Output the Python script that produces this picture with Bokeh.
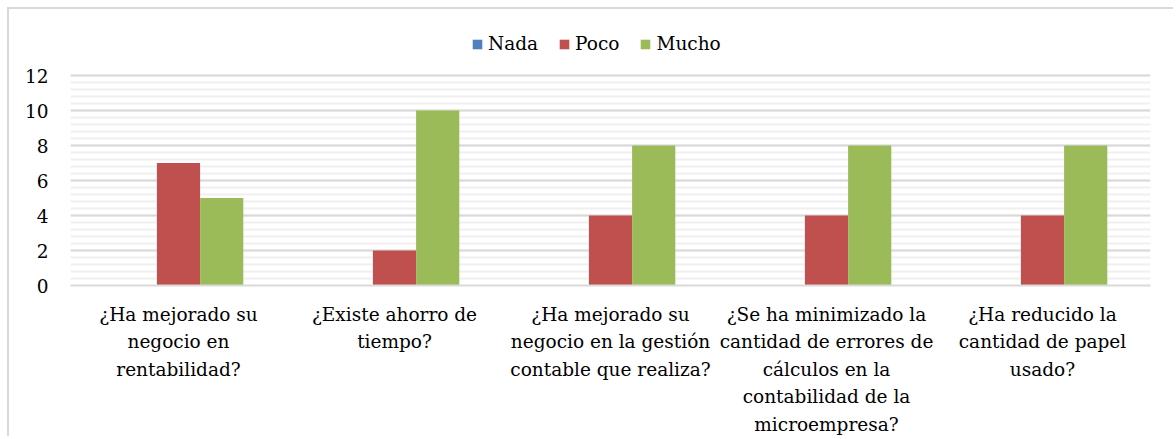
import numpy as np
from bokeh.plotting import figure
from bokeh.models import ColumnDataSource, FactorRange, FixedTicker, Legend, LegendItem
from bokeh.transform import dodge
from bokeh.embed import file_html
from bokeh.resources import INLINE

categories = [
    "¿Ha mejorado su\nnegocio en\nrentabilidad?",
    "¿Existe ahorro de\ntiempo?",
    "¿Ha mejorado su\nnegocio en la gestión\ncontable que realiza?",
    "¿Se ha minimizado la\ncantidad de errores de\ncálculos en la\ncontabilidad de la\nmicroempresa?",
    "¿Ha reducido la\ncantidad de papel\nusado?",
]
nada = [0, 0, 0, 0, 0]
poco = [7, 2, 4, 4, 4]
mucho = [5, 10, 8, 8, 8]
series_names = ["Nada", "Poco", "Mucho"]
colors = ["#4F81BD", "#C0504D", "#9BBB59"]
y_ticks = [0, 2, 4, 6, 8, 10, 12]

FONT = "DejaVu Serif"
FS = "18.5px"

source = ColumnDataSource(data=dict(cat=categories, Nada=nada, Poco=poco, Mucho=mucho))

MBT, MBB = 22, 153
W, H = 1166, 429
frame_h = H - MBT - MBB
px_per_unit = 210 / 12.0
y_end = frame_h / px_per_unit

p = figure(
    x_range=FactorRange(*categories, range_padding=0),
    y_range=(0, y_end),
    width=W, height=H,
    output_backend="svg", toolbar_location=None,
    min_border_left=61, min_border_right=25, min_border_top=MBT, min_border_bottom=MBB,
)
p.styles = {"margin-left": "7px", "margin-top": "7px",
            "border-left": "2px solid #d9d9d9", "border-top": "2px solid #d9d9d9"}
p.outline_line_color = None
p.background_fill_color = "white"
p.border_fill_color = "white"

renderers = []
offsets = [-0.2, 0.0, 0.2]
for name, col, off in zip(series_names, colors, offsets):
    r = p.vbar(x=dodge("cat", off, range=p.x_range), top=name, width=0.2, source=source,
               fill_color=col, line_color=None)
    renderers.append(r)

minor = [round(v, 1) for v in np.arange(0, 12.0001, 0.4)]
p.yaxis.ticker = FixedTicker(ticks=y_ticks, minor_ticks=minor)
p.ygrid.ticker = FixedTicker(ticks=y_ticks, minor_ticks=minor)
p.yaxis.axis_line_color = None
p.yaxis.major_tick_line_color = None
p.yaxis.minor_tick_line_color = None
p.yaxis.major_label_text_font = FONT
p.yaxis.major_label_text_font_size = FS
p.yaxis.major_label_text_color = "#000000"
p.yaxis.major_label_standoff = 16

p.xaxis.axis_line_color = "#d9d9d9"
p.xaxis.axis_line_width = 2
p.xaxis.major_tick_line_color = None
p.xaxis.minor_tick_line_color = None
p.xaxis.major_label_text_font = FONT
p.xaxis.major_label_text_font_size = FS
p.xaxis.major_label_text_color = "#000000"
p.xaxis.major_label_text_line_height = 1.31
p.xaxis.major_label_standoff = 12
p.xaxis.major_label_orientation = "horizontal"

p.xgrid.grid_line_color = None
p.ygrid.grid_line_color = "#d9d9d9"
p.ygrid.grid_line_width = 2
p.ygrid.minor_grid_line_color = "#f0f0f0"
p.ygrid.minor_grid_line_width = 2

legend = Legend(
    items=[LegendItem(label=n, renderers=[r]) for n, r in zip(series_names, renderers)],
    orientation="horizontal",
    location=(401, 231),
    border_line_color=None,
    background_fill_alpha=0,
    label_text_font=FONT,
    label_text_font_size=FS,
    label_text_color="#000000",
    glyph_width=12, glyph_height=12,
    label_standoff=5,
    spacing=20,
    padding=0, margin=0,
)
p.add_layout(legend)

open("out.html", "w").write(file_html(p, INLINE))
